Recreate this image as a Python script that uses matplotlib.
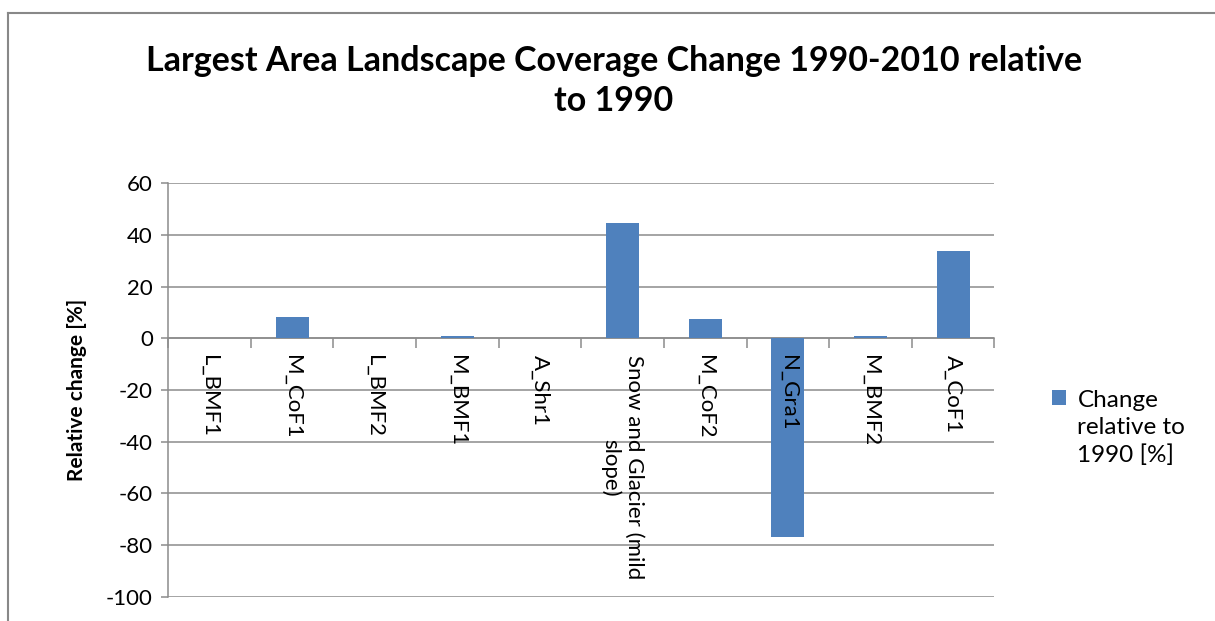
import matplotlib.pyplot as plt
import matplotlib.transforms as mtransforms
from matplotlib.lines import Line2D

plt.rcParams["font.family"] = ["Lato", "DejaVu Sans"]
plt.rcParams["axes.unicode_minus"] = False

classes = ["L_BMF1", "M_CoF1", "L_BMF2", "M_BMF1", "A_Shr1",
           "Snow and Glacier (mild\nslope)", "M_CoF2", "N_Gra1", "M_BMF2", "A_CoF1"]
change = [0.0, 8.4, 0.0, 0.9, 0.0, 44.5, 7.5, -77.0, 1.0, 33.8]
yticks = [60, 40, 20, 0, -20, -40, -60, -80, -100]

fig = plt.figure(figsize=(12.15, 6.21), dpi=100)
ax = fig.add_axes([0.1385, 0.039, 0.6799, 0.6658])

grid = "#8c8c8c"
x = range(len(classes))
ax.bar(x, change, width=0.4, color="#4F81BD", linewidth=0,
       label="Change\nrelative to\n1990 [%]", zorder=3)

ax.set_xlim(-0.5, len(classes) - 0.5)
ax.set_ylim(-100, 60)
ax.set_yticks(yticks)
ax.yaxis.grid(True, color=grid, linewidth=1.1, zorder=0)
ax.tick_params(axis="y", direction="out", length=5, width=1.1, color=grid,
               labelsize=16, pad=6)

# category axis sits on the zero line, ticks between categories
ax.spines["bottom"].set_position(("data", 0))
ax.spines["bottom"].set_color(grid)
ax.spines["bottom"].set_linewidth(1.1)
ax.spines["left"].set_color(grid)
ax.spines["left"].set_linewidth(1.1)
ax.spines["top"].set_visible(False)
ax.spines["right"].set_visible(False)
ax.set_xticks([i - 0.5 for i in range(len(classes) + 1)])
ax.set_xticklabels([])
ax.tick_params(axis="x", direction="out", length=7, width=1.1, color=grid)
shift = ax.transData + mtransforms.ScaledTranslation(0, -17 / 100, fig.dpi_scale_trans)
for i, name in enumerate(classes):
    ax.text(i, 0, name, rotation=270, ha="center", va="top", multialignment="center",
            fontsize=16, transform=shift, zorder=4)

ax.set_ylabel("Relative change [%]", fontsize=15, fontweight="bold", labelpad=14)

fig.text(0.505, 0.87, "Largest Area Landscape Coverage Change 1990-2010 relative\nto 1990",
         ha="center", va="center", fontsize=24.5, fontweight="bold", linespacing=1.3)

leg = ax.legend(loc="upper left", bbox_to_anchor=(1030 / 1215, 1 - 368 / 621),
                bbox_transform=fig.transFigure, frameon=False, fontsize=17.5,
                handlelength=0.6, handleheight=0.6, handletextpad=0.45)
leg.get_texts()[0].set_linespacing(1.35)
# put the swatch next to the first line of the label
for column in leg._legend_handle_box.get_children():
    for item in column.get_children():
        item.align = "top"

# outer chart frame
fig.add_artist(Line2D([8 / 1215, 8 / 1215], [0, 1 - 13 / 621], color="#888888", lw=1.5))
fig.add_artist(Line2D([8 / 1215, 1], [1 - 13 / 621, 1 - 13 / 621], color="#888888", lw=1.5))

fig.savefig("out.png", dpi=100, facecolor="white")
